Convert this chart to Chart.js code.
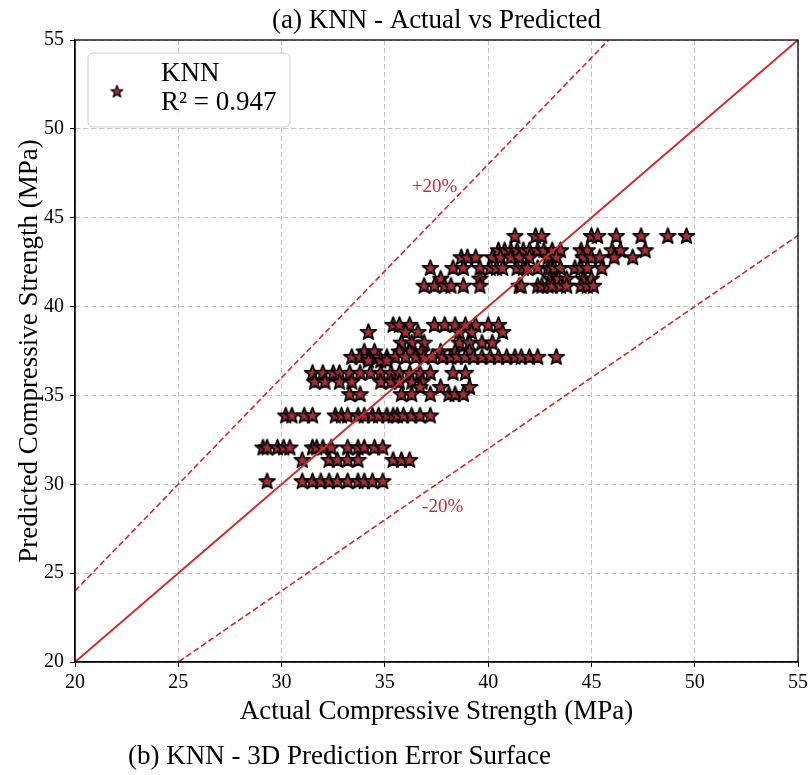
<!doctype html>
<html>
<head>
<meta charset="utf-8">
<title>KNN - Actual vs Predicted</title>
<script src="https://cdn.jsdelivr.net/npm/chart.js@4.4.1/dist/chart.umd.min.js"></script>
<style>
  html, body { margin: 0; padding: 0; background: #fff; }
  #container1 { width: 812px; height: 775px; }
</style>
</head>
<body>
<div id="container1"><canvas id="canvas1"></canvas></div>
<script>
    var SERIF = "'Liberation Serif', 'Times New Roman', Times, serif";

    // KNN predictions come out on a few discrete levels; actual strengths for each level
    var predictedLevels = [44.0, 43.2, 42.8, 42.2, 41.6, 41.2, 39.0, 38.6, 38.0, 37.5,
                           37.2, 37.0, 36.3, 35.8, 35.5, 35.1, 33.9, 32.1, 31.4, 30.2];
    var actualByLevel = [
        [41.3, 42.3, 42.6, 45.0, 45.3, 46.2, 47.4, 48.7, 49.6],
        [40.5, 40.8, 41.1, 41.4, 41.7, 42.0, 42.4, 42.7, 43.1, 43.5, 44.5, 44.8, 46.0, 46.4, 47.6],
        [38.7, 39.0, 39.4, 40.2, 40.6, 41.1, 41.5, 42.0, 42.9, 43.3, 44.6, 45.0, 45.4, 46.1, 47.0],
        [37.2, 38.3, 38.8, 39.6, 40.1, 40.4, 40.7, 41.4, 41.7, 41.9, 42.4, 42.9, 43.0, 43.2, 43.5, 44.2, 44.5, 44.8, 45.5],
        [37.7, 39.6, 43.0, 43.4, 43.8, 44.6, 45.0],
        [36.9, 37.4, 37.9, 38.2, 38.8, 39.6, 41.5, 41.6, 42.4, 42.6, 42.9, 43.1, 43.5, 43.8, 44.5, 44.8, 45.1],
        [35.4, 35.7, 36.2, 37.4, 37.9, 38.4, 38.9, 39.4, 40.0, 40.5],
        [34.2, 36.0, 36.6, 38.6, 39.2, 40.7],
        [35.8, 36.3, 36.9, 38.6, 39.1, 39.7, 40.2],
        [34.0, 34.5, 35.7, 36.2, 36.8, 37.7, 38.4, 39.1],
        [33.4, 33.8, 34.2, 34.7, 35.1, 35.5, 36.0, 36.5, 36.9, 37.3, 37.8, 38.2, 38.5, 38.9, 39.3, 39.7, 40.1, 40.5, 40.9, 41.3, 41.6, 42.0, 42.4, 43.3],
        [34.2, 34.8, 35.1],
        [31.5, 32.0, 32.5, 32.8, 33.3, 33.8, 34.3, 34.8, 35.3, 35.7, 36.2, 36.7, 37.2, 38.3, 38.9],
        [31.6, 32.1, 32.8, 33.4, 34.8, 35.3, 35.7, 36.3, 36.8],
        [36.7, 37.7, 39.1],
        [33.3, 33.8, 35.8, 36.3, 37.2, 38.1, 38.4, 38.8],
        [30.2, 30.5, 31.1, 31.5, 32.6, 32.9, 33.2, 33.7, 34.0, 34.4, 34.7, 35.1, 35.4, 35.6, 35.9, 36.3, 36.7, 37.2],
        [29.1, 29.3, 29.8, 30.1, 30.4, 31.5, 31.7, 32.0, 32.4, 33.2, 33.7, 34.0, 34.5, 34.9],
        [31.0, 32.3, 32.7, 33.2, 33.7, 35.4, 35.8, 36.2],
        [29.3, 31.0, 31.5, 31.9, 32.3, 32.7, 33.2, 33.7, 34.0, 34.4, 34.9]
    ];

    var axisTicks = [20, 25, 30, 35, 40, 45, 50, 55];
    var refX = [20, 55];                 // ends of the reference lines
    var bandFactors = [1.0, 1.2, 0.8];   // y = x, +20 %, -20 %
    var bandLabels = ['+20%', '-20%'];
    var bandLabelX = [37.4, 37.8];
    var bandLabelY = [46.7, 28.7];
    var r2Text = 'R\u00B2 = 0.947';

    var points = [];
    predictedLevels.forEach(function (p, i) {
        actualByLevel[i].forEach(function (a) { points.push({ x: a, y: p }); });
    });

    function lineData(k) {
        return refX.map(function (v) { return { x: v, y: v * k }; });
    }

    // filled five-point star with a black edge (Chart.js 'star' is only a cross)
    function makeStar(size, edge) {
        var c = document.createElement('canvas');
        c.width = size; c.height = size;
        var g = c.getContext('2d');
        var cx = size / 2, cy = size / 2 + size * 0.05;
        var R = size / 2 - 1.2, r = R * 0.42;
        g.beginPath();
        for (var i = 0; i < 10; i++) {
            var rad = i % 2 === 0 ? R : r;
            var ang = -Math.PI / 2 + i * Math.PI / 5;
            g.lineTo(cx + rad * Math.cos(ang), cy + rad * Math.sin(ang));
        }
        g.closePath();
        g.fillStyle = '#a52d38';
        g.fill();
        g.lineWidth = edge;
        g.lineJoin = 'round';
        g.strokeStyle = '#000';
        g.stroke();
        return c;
    }
    var starImg = makeStar(19, 1.7);
    var legendStar = makeStar(15, 1.3);

    var overlay = {
        id: 'overlay',
        afterDatasetsDraw: function (chart) {
            var a = chart.chartArea, c = chart.ctx;
            var xs = chart.scales.x, ys = chart.scales.y;
            c.save();
            c.font = '19px ' + SERIF;
            c.fillStyle = '#c0303a';
            c.textAlign = 'center';
            c.textBaseline = 'middle';
            for (var i = 0; i < bandLabels.length; i++) {
                c.fillText(bandLabels[i], xs.getPixelForValue(bandLabelX[i]), ys.getPixelForValue(bandLabelY[i]));
            }
            // full frame
            c.strokeStyle = '#000';
            c.lineWidth = 1.3;
            c.strokeRect(a.left, a.top, a.right - a.left, a.bottom - a.top);

            // legend
            var lx = a.left + 13, ly = a.top + 13, lw = 202, lh = 74;
            c.beginPath();
            c.roundRect(lx, ly, lw, lh, 5);
            c.fillStyle = 'rgba(255,255,255,0.85)';
            c.fill();
            c.strokeStyle = '#cfcfcf';
            c.lineWidth = 1;
            c.stroke();
            c.drawImage(legendStar, lx + 29 - legendStar.width / 2, ly + 38 - legendStar.height / 2);
            c.fillStyle = '#000';
            c.textAlign = 'left';
            c.font = '27px ' + SERIF;
            c.fillText('KNN', lx + 73, ly + 21);
            c.fillText(r2Text, lx + 73, ly + 50);

            // caption of the next panel
            c.fillText('(b) KNN - 3D Prediction Error Surface', 128, 757);
            c.restore();
        }
    };

    window.onload = function () {
        var ctx1 = document.getElementById('canvas1').getContext('2d');
        var bandStyles = [
            { width: 2, dash: [] },
            { width: 1.6, dash: [6, 3] },
            { width: 1.6, dash: [6, 3] }
        ];
        var datasets = bandFactors.map(function (k, i) {
            return {
                label: 'ref' + i,
                data: lineData(k),
                showLine: true,
                borderColor: '#d02a2a',
                borderWidth: bandStyles[i].width,
                borderDash: bandStyles[i].dash,
                pointRadius: 0,
                order: 0
            };
        });
        datasets.push({
            label: 'KNN',
            data: points,
            pointStyle: starImg,
            pointRadius: 9,
            order: 1
        });

        var axisTitleFont = { family: SERIF, size: 27, weight: 'normal' };
        var tickFont = { family: SERIF, size: 20, weight: 'normal' };

        window.myChart = new Chart(ctx1, {
            type: 'scatter',
            data: { datasets: datasets },
            options: {
                responsive: true,
                maintainAspectRatio: false,
                animation: false,
                layout: { padding: { left: 10, right: 14, top: 0, bottom: 43 } },
                plugins: {
                    legend: { display: false },
                    tooltip: { enabled: false },
                    title: {
                        display: true,
                        fullSize: false,
                        text: '(a) KNN - Actual vs Predicted',
                        color: '#000',
                        font: axisTitleFont,
                        padding: { top: 5, bottom: 2.6 }
                    }
                },
                scales: {
                    x: {
                        type: 'linear',
                        min: 20, max: 55,
                        afterBuildTicks: function (s) { s.ticks = axisTicks.map(function (v) { return { value: v }; }); },
                        afterFit: function (s) { s.height = 70; },
                        ticks: { color: '#000', font: tickFont, padding: 4, maxRotation: 0 },
                        grid: { color: '#bdbdbd', lineWidth: 0.9, tickColor: '#000', tickLength: 5, tickWidth: 1, tickBorderDash: [] },
                        border: { color: '#000', width: 1.3, dash: [5, 3] },
                        title: { display: true, text: 'Actual Compressive Strength (MPa)', color: '#000', font: axisTitleFont, padding: { top: 4, bottom: 4 } }
                    },
                    y: {
                        type: 'linear',
                        min: 20, max: 55,
                        afterBuildTicks: function (s) { s.ticks = axisTicks.map(function (v) { return { value: v }; }); },
                        afterFit: function (s) { s.width = 65; },
                        ticks: { color: '#000', font: tickFont, padding: 6 },
                        grid: { color: '#bdbdbd', lineWidth: 0.9, tickColor: '#000', tickLength: 5, tickWidth: 1, tickBorderDash: [] },
                        border: { color: '#000', width: 1.3, dash: [5, 3] },
                        title: { display: true, text: 'Predicted Compressive Strength (MPa)', color: '#000', font: axisTitleFont, padding: { top: 4, bottom: 4 } }
                    }
                }
            },
            plugins: [overlay]
        });
    };
</script>
</body>
</html>
